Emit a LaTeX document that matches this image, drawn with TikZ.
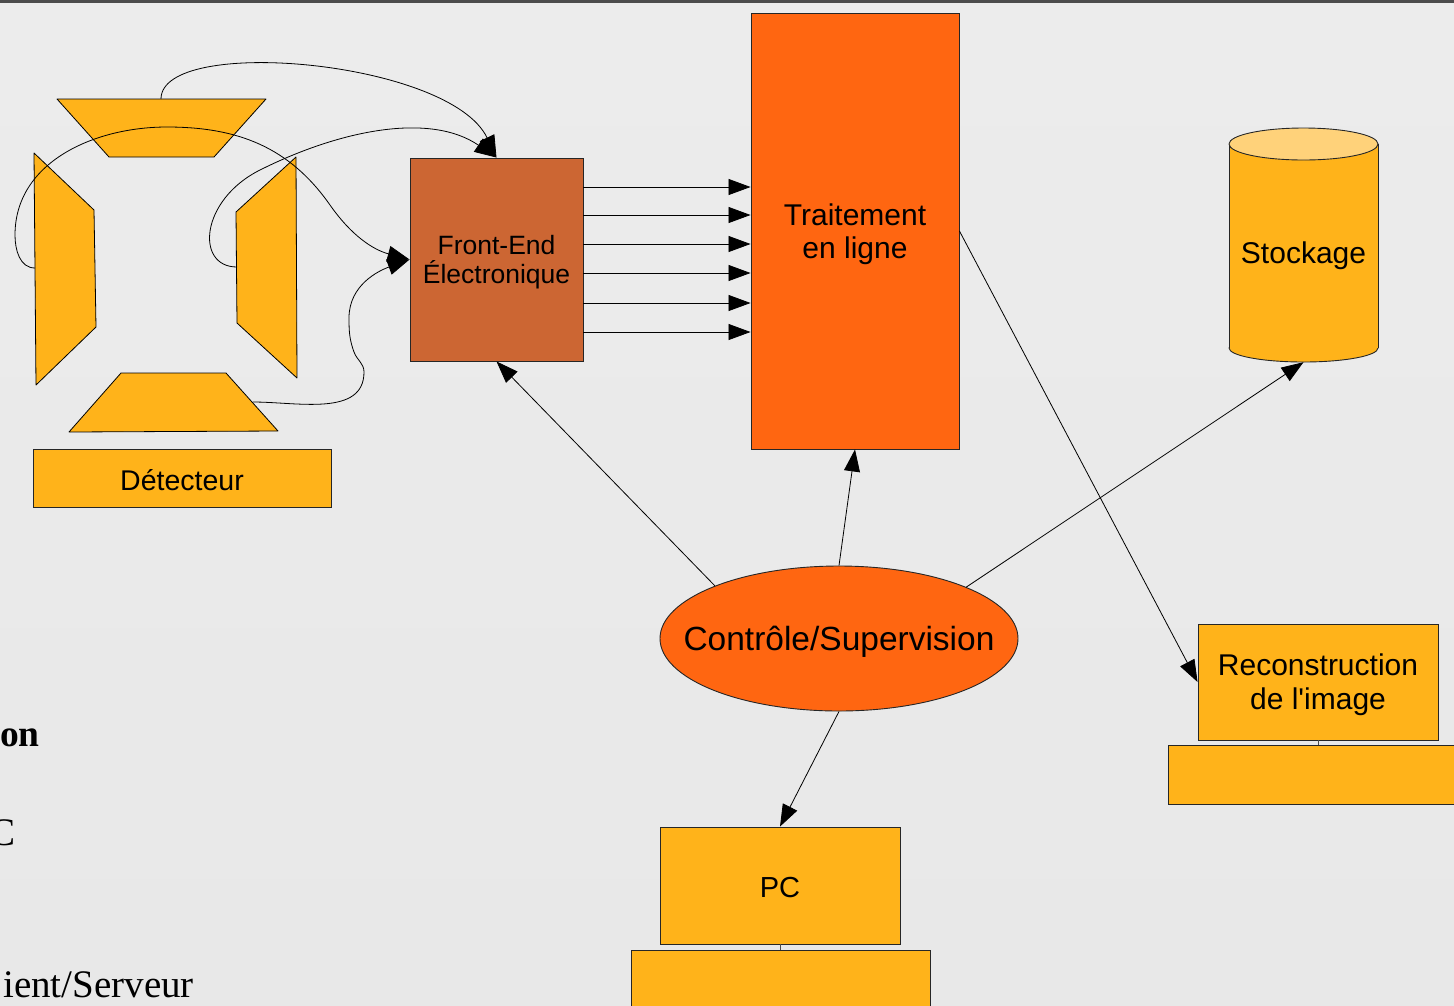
\documentclass[tikz,border=0pt]{standalone}
\usepackage{fontspec}
\setmainfont{Liberation Sans}
\newfontfamily\serifb{Liberation Serif}
\usetikzlibrary{arrows.meta,shapes.geometric}
\definecolor{hot}{HTML}{FF6611}
\definecolor{rust}{HTML}{CC6633}
\definecolor{amber}{HTML}{FFB31A}
\definecolor{amberlight}{HTML}{FFD27A}
\definecolor{bgtop}{HTML}{ECECEC}
\definecolor{bgmid}{HTML}{E1E1E1}
\definecolor{bgbot}{HTML}{E8E8E8}
\begin{document}
\begin{tikzpicture}[x=1pt,y=-1pt,
  box/.style={draw=black!85, line width=0.9pt, inner sep=0pt},
  txt/.style={inner sep=0pt, align=center},
  arr/.style={line width=0.8pt, -{Triangle[length=22pt,width=16pt]}},
  det/.style={fill=amber, draw=black, line width=0.8pt, line join=round},
  lefttxt/.style={anchor=base east, inner sep=0pt, font=\serifb\fontsize{39}{42}\selectfont}]
\useasboundingbox (0,0) rectangle (1454,1005);
\shade[top color=bgtop, middle color=bgmid, bottom color=bgbot] (0,0) rectangle (1454,1005);
\fill[black!70] (0,0) rectangle (1454,2.5);

% detector trapezoids
\draw[det] (57,99) -- (266,99) -- (214,157) -- (109,157) -- cycle;
\draw[det] (34,153) -- (94,210) -- (96,327) -- (36,385) -- cycle;
\draw[det] (296,157) -- (297,378) -- (237,323) -- (236,212) -- cycle;
\draw[det] (121,373) -- (226,373) -- (278,431) -- (69,432) -- cycle;
\coordinate (dtop) at (161,99);
\coordinate (dleft) at (35,268);
\coordinate (dright) at (237,267);
\coordinate (dbot) at (253,402);

\node[box, fill=amber, minimum width=298pt, minimum height=58pt] (det) at (182,478) {};
\node[txt, font=\fontsize{28.5}{32}\selectfont] (detl) at ([yshift=-2pt]det.center) {Détecteur};

\node[box, fill=rust, minimum width=173pt, minimum height=203pt] (fe) at (496.5,259.5) {};
\node[txt, font=\fontsize{26.5}{29}\selectfont] (fel) at ([yshift=-3pt]fe.center) {Front-End\\Électronique};

\node[box, fill=hot, minimum width=208pt, minimum height=436pt] (trait) at (855,231) {};
\node[txt, font=\fontsize{30}{33}\selectfont] (traitl) at ([yshift=-3pt]trait.center) {Traitement\\en ligne};

% storage cylinder
\fill[amber, draw=black!85, line width=0.9pt] (1303.5,348) ellipse [x radius=74.5, y radius=14];
\fill[amber] (1229,144) rectangle (1378,348);
\draw[line width=0.9pt, black!85] (1229,144) -- (1229,348) (1378,144) -- (1378,348);
\filldraw[fill=amberlight, draw=black!85, line width=0.9pt] (1303.5,144) ellipse [x radius=74.5, y radius=16];
\node[inner sep=0pt, minimum width=149pt, minimum height=218pt] (stock) at (1303.5,253) {};
\node[txt, font=\fontsize{30}{33}\selectfont] (stockl) at ([yshift=-3pt]stock.center) {Stockage};

\node[box, ellipse, fill=hot, minimum width=358pt, minimum height=145pt] (ctrl) at (839,638.5) {};
\node[txt, font=\fontsize{33.5}{37}\selectfont] (ctrll) at ([yshift=-3pt]ctrl.center) {Contrôle/Supervision};

\node[box, fill=amber, minimum width=240pt, minimum height=116pt] (rec) at (1318,682) {};
\node[txt, font=\fontsize{30}{34}\selectfont] (recl) at ([yshift=-3pt]rec.center) {Reconstruction\\de l\textquotesingle image};
\node[box, fill=amber, minimum width=312pt, minimum height=59pt] (recbase) at (1324,774.5) {};
\draw[line width=0.6pt, black!70] (rec.south) -- (rec.south |- recbase.north);

\node[box, fill=amber, minimum width=240pt, minimum height=117pt] (pc) at (780,885.5) {};
\node[txt, font=\fontsize{29}{32}\selectfont] (pcl) at ([yshift=-2pt]pc.center) {PC};
\node[box, fill=amber, minimum width=299pt, minimum height=80pt] (pcbase) at (780.5,990) {};
\draw[line width=0.6pt, black!70] (pc.south) -- (pc.south |- pcbase.north);

% left-edge cut texts
\node[lefttxt, font=\serifb\bfseries\fontsize{37.5}{40}\selectfont] (t1) at (40,746) {on};
\node[lefttxt] (t2) at (16,845) {C};
\node[lefttxt] (t3) at (194,997) {ient/Serveur};

% detector wiring
\draw[arr] (dtop) .. controls (161,35) and (450,60) .. (fe.north);
\draw[arr] (dright) .. controls (195,267) and (200,200) .. (260,170) .. controls (340,130) and (430,112) .. (fe.north);
\draw[arr] (dleft) to[out=180,in=-90] (15,235) to[out=90,in=180] (167,127) to[out=0,in=125] (330,205) to[out=-55,in=165] (fe.west);
\draw[arr] (dbot) to[out=0,in=-90] (364,372) to[out=90,in=-70] (354,352) to[out=110,in=-90] (349,318) to[out=90,in=200] (fe.west);

% front-end to processing
\foreach \i/\yy in {1/187,2/215,3/244,4/273,5/303,6/332}{
  \coordinate (row\i) at (0,\yy);
  \draw[arr] (fe.east |- row\i) -- (trait.west |- row\i);
}

% control arrows
\draw[arr] (ctrl.157) -- (fe.south);
\draw[arr] (ctrl.north) -- (trait.south);
\draw[arr] (ctrl.22) -- (stock.south);
\draw[arr] (ctrl.south) -- (pc.north);
\draw[arr] (trait.east) -- (rec.west);
\end{tikzpicture}
\end{document}
